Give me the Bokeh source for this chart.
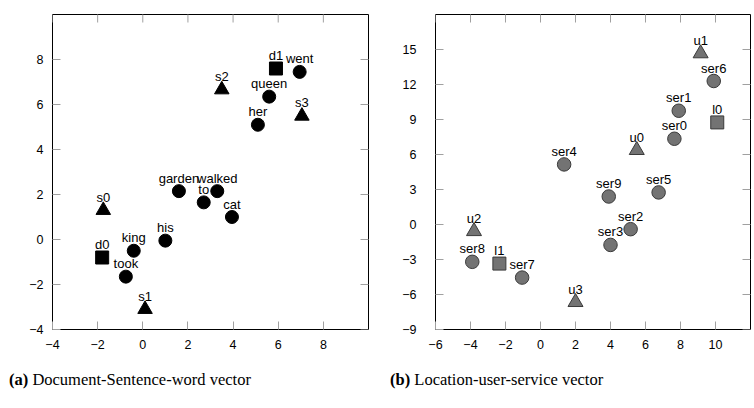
import math
from bokeh.plotting import figure
from bokeh.layouts import row, column
from bokeh.models import Range1d, FixedTicker, LinearAxis, ColumnDataSource, Div
from bokeh.core.properties import value
from bokeh.embed import file_html
from bokeh.resources import INLINE

# ---- Panel (a): Document-Sentence-word vector ----
doc_labels = ["d0", "d1"]
doc_x = [-1.8, 5.9]
doc_y = [-0.8, 7.6]

sent_labels = ["s0", "s1", "s2", "s3"]
sent_x = [-1.75, 0.1, 3.5, 7.05]
sent_y = [1.3, -3.1, 6.66, 5.49]

word_labels = ["king", "took", "his", "garden", "to", "walked", "cat", "queen", "her", "went"]
word_x = [-0.4, -0.75, 1.0, 1.6, 2.7, 3.3, 3.95, 5.6, 5.1, 6.95]
word_y = [-0.5, -1.65, -0.05, 2.15, 1.65, 2.15, 1.0, 6.35, 5.1, 7.45]

a_xticks = [-4, -2, 0, 2, 4, 6, 8]
a_yticks = [-4, -2, 0, 2, 4, 6, 8]

# ---- Panel (b): Location-user-service vector ----
loc_labels = ["l0", "l1"]
loc_x = [10.1, -2.35]
loc_y = [8.75, -3.35]

user_labels = ["u0", "u1", "u2", "u3"]
user_x = [5.5, 9.15, -3.8, 2.0]
user_y = [6.37, 14.66, -0.58, -6.66]

ser_labels = ["ser0", "ser1", "ser2", "ser3", "ser4", "ser5", "ser6", "ser7", "ser8", "ser9"]
ser_x = [7.65, 7.9, 5.15, 4.0, 1.35, 6.75, 9.9, -1.05, -3.9, 3.9]
ser_y = [7.35, 9.75, -0.4, -1.75, 5.15, 2.75, 12.3, -4.55, -3.2, 2.4]

b_xticks = [-6, -4, -2, 0, 2, 4, 6, 8, 10]
b_yticks = [-9, -6, -3, 0, 3, 6, 9, 12, 15]

captions = [("(a)", "Document-Sentence-word vector"), ("(b)", "Location-user-service vector")]

SANS = "Liberation Sans"
SERIF = "Liberation Serif"
TICK_COLOR = "#a0a0a0"


def style_axis(ax, ticks, standoff):
    ax.ticker = FixedTicker(ticks=ticks)
    ax.axis_line_color = None
    ax.major_tick_line_color = TICK_COLOR
    ax.major_tick_in = 8
    ax.major_tick_out = 0
    ax.minor_tick_line_color = None
    ax.major_label_text_font = SANS
    ax.major_label_text_color = "black"
    ax.major_label_text_font_size = "12.5px"
    ax.major_label_standoff = standoff


def make_panel(width, bl, br, xr, yr, xticks, yticks, ystand):
    p = figure(width=width, height=360, output_backend="svg", toolbar_location=None,
               x_range=Range1d(*xr), y_range=Range1d(*yr),
               min_border_left=bl, min_border_right=br, min_border_top=14,
               min_border_bottom=31, x_axis_location=None, y_axis_location=None)
    p.xgrid.visible = False
    p.ygrid.visible = False
    p.outline_line_color = "black"
    p.outline_line_width = 1
    p.background_fill_color = "white"
    p.border_fill_color = "white"
    bx = LinearAxis(); style_axis(bx, xticks, 10); p.add_layout(bx, "below")
    ly = LinearAxis(); style_axis(ly, yticks, ystand); p.add_layout(ly, "left")
    # mirrored inward ticks on top and right edges (clipped to the frame)
    p.scatter(xticks, [yr[1]] * len(xticks), marker="dash", size=16, angle=math.pi / 2,
              line_color=TICK_COLOR, line_width=1)
    p.scatter([xr[1]] * len(yticks), yticks, marker="dash", size=16,
              line_color=TICK_COLOR, line_width=1)
    return p


def add_points(p, xs, ys, labels, marker, size, fill, line):
    src = ColumnDataSource(dict(x=xs, y=ys, t=labels))
    p.scatter("x", "y", source=src, marker=marker, size=size,
              fill_color=fill, line_color=line, line_width=1)
    p.text("x", "y", text="t", source=src, text_font=value(SANS), text_font_size="13px",
           text_align="center", text_baseline="alphabetic", y_offset=-13, text_color="black")


def caption_div(width, pad_left, bold, rest):
    html = (f'<div style="padding-top:10px;padding-left:{pad_left}px;line-height:19px;'
            f'font-family:\'{SERIF}\';font-size:16.5px;color:black;white-space:nowrap;">'
            f'<b>{bold}</b> {rest}</div>')
    return Div(text=html, width=width, height=40, margin=0)


pa = make_panel(377, 52, 9, (-4, 10), (-4, 10), a_xticks, a_yticks, 9)
add_points(pa, doc_x, doc_y, doc_labels, "square", 13, "black", "black")
add_points(pa, sent_x, sent_y, sent_labels, "triangle", 14.5, "black", "black")
add_points(pa, word_x, word_y, word_labels, "circle", 13, "black", "black")

GRAY = "#737373"
EDGE = "#3a3a3a"
pb = make_panel(376, 58, 3, (-6, 12), (-9, 18), b_xticks, b_yticks, 19)
add_points(pb, loc_x, loc_y, loc_labels, "square", 13, GRAY, EDGE)
add_points(pb, user_x, user_y, user_labels, "triangle", 15, GRAY, EDGE)
add_points(pb, ser_x, ser_y, ser_labels, "circle", 13.5, GRAY, EDGE)

da = caption_div(377, 9, *captions[0])
db = caption_div(376, 13, *captions[1])

layout = column(row(pa, pb, spacing=0), row(da, db, spacing=0), spacing=0)
open("out.html", "w").write(file_html(layout, INLINE))
